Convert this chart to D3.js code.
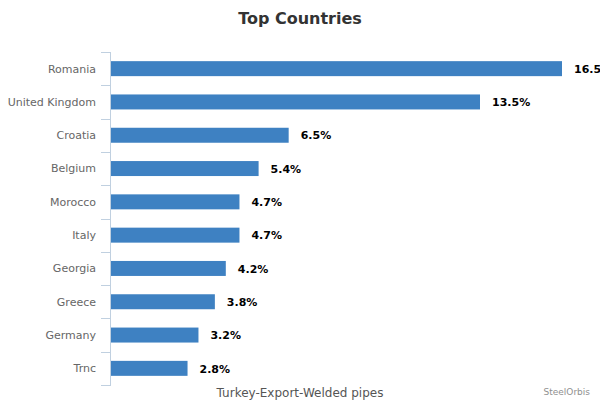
<!DOCTYPE html>
<html>
<head>
<meta charset="utf-8">
<script src="https://cdn.jsdelivr.net/npm/d3@7"></script>
<style>
  body { margin: 0; background: #fff; }
  text { font-family: "DejaVu Sans", Verdana, sans-serif; }
</style>
</head>
<body>
<div id="chart"></div>
<script>
var countries = ["Romania", "United Kingdom", "Croatia", "Belgium", "Morocco", "Italy", "Georgia", "Greece", "Germany", "Trnc"]
var shares = [16.5, 13.5, 6.5, 5.4, 4.7, 4.7, 4.2, 3.8, 3.2, 2.8]

var width = 600, height = 400
var margin = { top: 52, right: 38, bottom: 15, left: 111 }

var svg = d3.select("#chart").append("svg")
    .attr("width", width)
    .attr("height", height)

var x = d3.scaleLinear()
    .domain([0, d3.max(shares)])
    .range([margin.left, width - margin.right])

var y = d3.scaleBand()
    .domain(countries)
    .range([margin.top, height - margin.bottom])

var barH = y.bandwidth() * 0.45

svg.append("text")
    .attr("x", width / 2)
    .attr("y", 24)
    .attr("text-anchor", "middle")
    .style("font-size", "16px")
    .style("font-weight", "bold")
    .style("fill", "#333")
    .text("Top Countries")

// category axis: line + ticks at band edges
var axis = svg.append("g")
axis.append("line")
    .attr("x1", margin.left - 0.5).attr("x2", margin.left - 0.5)
    .attr("y1", y.range()[0]).attr("y2", y.range()[1])
    .attr("stroke", "#c0d0e0")

var edges = countries.map(function(c) { return y(c) }).concat([y.range()[1]])
axis.selectAll(".tick")
    .data(edges)
    .enter().append("line")
    .attr("x1", margin.left - 10).attr("x2", margin.left)
    .attr("y1", function(d) { return Math.round(d) + 0.5 })
    .attr("y2", function(d) { return Math.round(d) + 0.5 })
    .attr("stroke", "#c0d0e0")

axis.selectAll(".cat")
    .data(countries)
    .enter().append("text")
    .attr("x", margin.left - 15)
    .attr("y", function(d) { return y(d) + y.bandwidth() / 2 })
    .attr("dy", "0.35em")
    .attr("text-anchor", "end")
    .style("font-size", "11px")
    .style("fill", "#666")
    .text(function(d) { return d })

svg.selectAll(".bar")
    .data(shares)
    .enter().append("rect")
    .attr("class", "bar")
    .attr("x", x(0))
    .attr("y", function(d, i) { return y(countries[i]) + (y.bandwidth() - barH) / 2 })
    .attr("width", function(d) { return x(d) - x(0) })
    .attr("height", barH)
    .attr("fill", "#3e81c2")

svg.selectAll(".val")
    .data(shares)
    .enter().append("text")
    .attr("x", function(d) { return x(d) + 12 })
    .attr("y", function(d, i) { return y(countries[i]) + y.bandwidth() / 2 })
    .attr("dy", "0.38em")
    .style("font-size", "11px")
    .style("font-weight", "bold")
    .style("fill", "#000")
    .text(function(d) { return d.toFixed(1) + "%" })

svg.append("text")
    .attr("x", width / 2)
    .attr("y", 397)
    .attr("text-anchor", "middle")
    .style("font-size", "12px")
    .style("fill", "#555")
    .text("Turkey-Export-Welded pipes")

svg.append("text")
    .attr("x", 590)
    .attr("y", 395)
    .attr("text-anchor", "end")
    .style("font-size", "9px")
    .style("fill", "#909090")
    .text("SteelOrbis")
</script>
</body>
</html>
